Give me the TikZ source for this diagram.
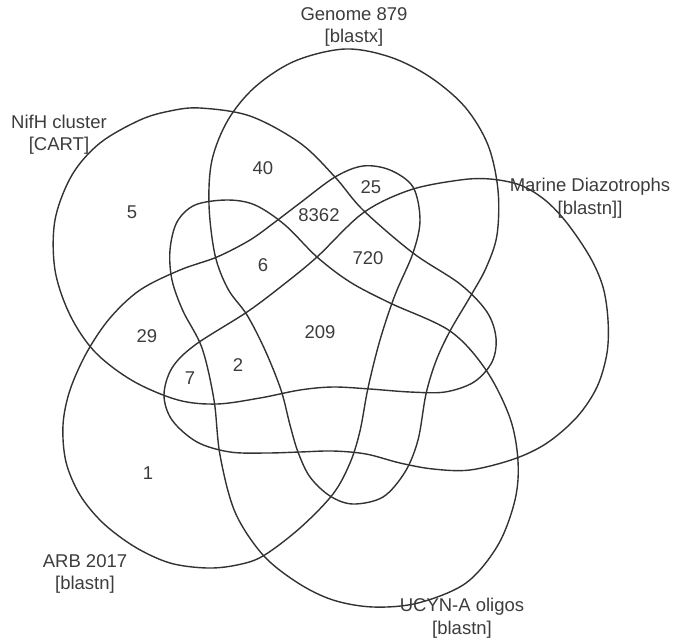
\documentclass[tikz,border=0pt]{standalone}
\usepackage{fontspec}
\setmainfont{Liberation Sans}
\definecolor{linegray}{RGB}{50,50,50}
\definecolor{textgray}{RGB}{60,60,60}
\begin{document}
\begin{tikzpicture}[x=1pt,y=-1pt,
  setline/.style={draw=linegray, line width=1.4pt, smooth cycle, tension=0.55},
  lbl/.style={text=textgray, font=\fontsize{18.5}{22.5}\selectfont, align=center, inner sep=0pt},
  num/.style={text=textgray, font=\fontsize{18.5}{22}\selectfont, inner sep=0pt}]
\useasboundingbox (0,0) rectangle (673,641);

% NifH cluster
\draw[setline] plot coordinates {(200,108) (250,116) (300,143) (335,177) (363,210) (413,253) (460,284) (487,312) (496,338) (492,362) (474,382) (445,392) (410,392) (370,389) (333,387) (300,390) (260,398) (217,404) (178,400) (133,381) (95,352) (70,315) (55,270) (55,220) (72,175) (100,143) (140,120) (170,111)};

% Genome 879
\draw[setline] plot coordinates {(345,49) (390,57) (430,77) (465,107) (488,145) (498,190) (497,235) (486,268) (470,297) (450,331) (436,361) (426,394) (418,440) (405,472) (383,497) (353,504) (330,496) (310,477) (298,452) (290,425) (281,390) (265,350) (247,315) (228,289) (215,255) (209,205) (212,160) (228,120) (255,87) (295,61)};

% Marine Diazotrophs
\draw[setline] plot coordinates {(460,180) (490,179) (520,185) (545,200) (567,223) (590,257) (603,287) (608,320) (607,353) (597,387) (577,417) (547,443) (514,459) (470,470) (433,469) (400,463) (366,454) (333,451) (300,452) (267,453) (230,452) (197,442) (172,420) (164,395) (172,368) (195,345) (247,312) (283,285) (317,257) (363,213) (410,190)};

% UCYN-A oligos
\draw[setline] plot coordinates {(227,200) (255,205) (285,225) (317,257) (350,282) (390,303) (450,331) (486,370) (510,418) (518,461) (515,500) (498,545) (466,583) (418,603) (373,607) (333,600) (298,583) (263,555) (235,512) (220,455) (214,400) (202,348) (183,311) (172,280) (170,250) (177,222) (195,205)};

% ARB 2017
\draw[setline] plot coordinates {(390,170) (413,187) (420,220) (413,253) (395,295) (380,340) (368,388) (360,431) (350,463) (333,494) (300,528) (263,556) (237,565) (207,568) (170,563) (135,547) (103,523) (80,495) (66,462) (63,425) (70,390) (87,352) (110,318) (140,290) (180,270) (217,257) (250,240) (275,222) (300,203) (335,177) (363,166)};

% set labels
\node[lbl] (lgenome) at (354,27) {Genome 879\\{}[blastx]};
\node[lbl] (lnifh) at (59,134.5) {NifH cluster\\{}[CART]};
\node[lbl] (lmarine) at (590,198) {Marine Diazotrophs\\{}[blastn]]};
\node[lbl] (larb) at (85,574) {ARB 2017\\{}[blastn]};
\node[lbl] (lucyn) at (462,618) {UCYN-A oligos\\{}[blastn]};

% counts
\node[num] (n40) at (263,168) {40};
\node[num] (n5) at (132,212) {5};
\node[num] (n8362) at (319,215) {8362};
\node[num] (n6) at (263,265) {6};
\node[num] (n25) at (371,187) {25};
\node[num] (n720) at (368,258) {720};
\node[num] (n209) at (320,332) {209};
\node[num] (n2) at (238,365) {2};
\node[num] (n7) at (190,378) {7};
\node[num] (n29) at (147,336) {29};
\node[num] (n1) at (148,473) {1};
\end{tikzpicture}
\end{document}
